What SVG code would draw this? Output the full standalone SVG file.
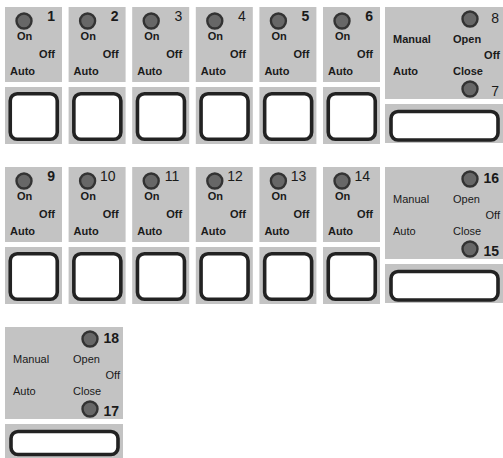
<svg xmlns="http://www.w3.org/2000/svg" width="503" height="458" viewBox="0 0 503 458">
<style>
.bg{fill:#ffffff}
.panel{fill:#c3c3c3}
.led{fill:#676767;stroke:#333333;stroke-width:2.4}
.btn{fill:#ffffff;stroke:#222222;stroke-width:3.6}
text{font-family:"Liberation Sans",Arial,sans-serif;fill:#1a1a1a}
.lbl{font-size:11px;font-weight:bold}
.lbr{font-size:11px}
.num{font-size:14px;font-weight:bold;text-anchor:end}
.numr{font-size:14px;text-anchor:end}
.end{text-anchor:end}
</style>
<defs>
<g id="sq">
<rect class="panel" x="0" y="0" width="57" height="75"/>
<circle class="led" cx="19" cy="14" r="7.5"/>
<text class="lbl" x="12" y="33">On</text>
<text class="lbl end" x="50" y="51">Off</text>
<text class="lbl" x="5" y="68">Auto</text>
<rect class="panel" x="0" y="80" width="57" height="57"/>
<rect class="btn" x="5.25" y="86.75" width="47" height="45.5" rx="7"/>
</g>
</defs>
<rect class="bg" x="0" y="0" width="503" height="458"/>
<g id="connectors"/>
<g id="n1" transform="translate(5,7)"><use href="#sq"/><text class="num" x="50" y="14">1</text></g>
<g id="n2" transform="translate(68.6,7)"><use href="#sq"/><text class="num" x="50" y="14">2</text></g>
<g id="n3" transform="translate(132.2,7)"><use href="#sq"/><text class="numr" x="50" y="14">3</text></g>
<g id="n4" transform="translate(195.8,7)"><use href="#sq"/><text class="numr" x="50" y="14">4</text></g>
<g id="n5" transform="translate(259.4,7)"><use href="#sq"/><text class="num" x="50" y="14">5</text></g>
<g id="n6" transform="translate(323,7)"><use href="#sq"/><text class="num" x="50" y="14">6</text></g>
<g id="n9" transform="translate(5,167)"><use href="#sq"/><text class="num" x="50" y="14">9</text></g>
<g id="n10" transform="translate(68.6,167)"><use href="#sq"/><text class="numr" x="47" y="14">10</text></g>
<g id="n11" transform="translate(132.2,167)"><use href="#sq"/><text class="numr" x="47" y="14">11</text></g>
<g id="n12" transform="translate(195.8,167)"><use href="#sq"/><text class="numr" x="47" y="14">12</text></g>
<g id="n13" transform="translate(259.4,167)"><use href="#sq"/><text class="numr" x="47" y="14">13</text></g>
<g id="n14" transform="translate(323,167)"><use href="#sq"/><text class="numr" x="47" y="14">14</text></g>
<g id="v78" transform="translate(385,7)">
<rect class="panel" x="0" y="0" width="118" height="92"/>
<circle class="led" cx="85" cy="12" r="7.5"/>
<text class="numr" x="114" y="16">8</text>
<text class="lbl" x="8" y="36">Manual</text>
<text class="lbl" x="68" y="36">Open</text>
<text class="lbl end" x="115" y="52">Off</text>
<text class="lbl" x="8" y="68">Auto</text>
<text class="lbl" x="68" y="68">Close</text>
<circle class="led" cx="85" cy="82" r="7.5"/>
<text class="numr" x="114" y="89">7</text>
<rect class="panel" x="0" y="97" width="118" height="39"/>
<rect class="btn" x="6" y="104.5" width="107" height="28.5" rx="7"/>
</g>
<g id="v1516" transform="translate(385,167)">
<rect class="panel" x="0" y="0" width="118" height="92"/>
<circle class="led" cx="85" cy="12" r="7.5"/>
<text class="num" x="114" y="16">16</text>
<text class="lbr" x="8" y="36">Manual</text>
<text class="lbr" x="68" y="36">Open</text>
<text class="lbr end" x="115" y="52">Off</text>
<text class="lbr" x="8" y="68">Auto</text>
<text class="lbr" x="68" y="68">Close</text>
<circle class="led" cx="85" cy="82" r="7.5"/>
<text class="num" x="114" y="89">15</text>
<rect class="panel" x="0" y="97" width="118" height="39"/>
<rect class="btn" x="6" y="104.5" width="107" height="28.5" rx="7"/>
</g>
<g id="v1718" transform="translate(5,327)">
<rect class="panel" x="0" y="0" width="118" height="92"/>
<circle class="led" cx="85" cy="12" r="7.5"/>
<text class="num" x="114" y="16">18</text>
<text class="lbr" x="8" y="36">Manual</text>
<text class="lbr" x="68" y="36">Open</text>
<text class="lbr end" x="115" y="52">Off</text>
<text class="lbr" x="8" y="68">Auto</text>
<text class="lbr" x="68" y="68">Close</text>
<circle class="led" cx="85" cy="82" r="7.5"/>
<text class="num" x="114" y="89">17</text>
<rect class="panel" x="0" y="97" width="118" height="34"/>
<rect class="btn" x="6" y="104.5" width="107" height="23" rx="7"/>
</g>
</svg>
